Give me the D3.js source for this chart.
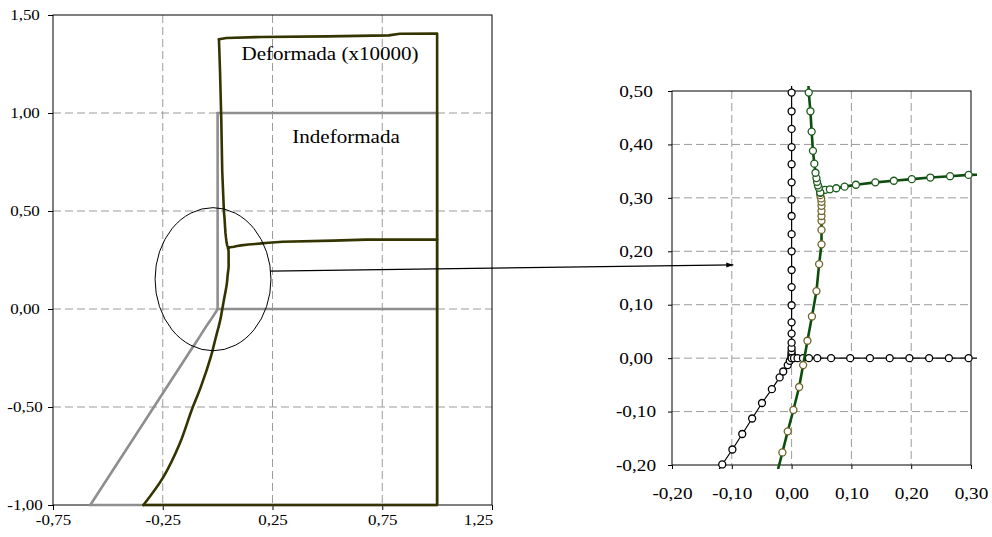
<!DOCTYPE html>
<html>
<head>
<meta charset="utf-8">
<script src="https://cdn.jsdelivr.net/npm/d3@7"></script>
<style>
  body { margin: 0; background: #fff; }
  svg { display: block; }
</style>
</head>
<body>
<svg id="chart" width="992" height="537"></svg>
<script>
// ---- tick values ----
const fullXTicks = [-0.75, -0.25, 0.25, 0.75, 1.25];
const fullYTicks = [-1.0, -0.5, 0.0, 0.5, 1.0, 1.5];
const zoomXTicks = [-0.2, -0.1, 0.0, 0.1, 0.2, 0.3];
const zoomYTicks = [-0.2, -0.1, 0.0, 0.1, 0.2, 0.3, 0.4, 0.5];

// ---- undeformed section (model units) ----
// sloped upstream face, from the base up to the wall foot
const undefFace = [[-0.58, -1.0], [-0.116, -0.199], [-0.099, -0.171], [-0.0825, -0.142], [-0.066, -0.113],
  [-0.0495, -0.084], [-0.033, -0.058], [-0.020, -0.036], [-0.014, -0.025], [-0.0065, -0.013],
  [-0.003, -0.005], [0.0, 0.0]];
// vertical wall x = 0
const undefWall = [[0, 0.0], [0, 0.003], [0, 0.006], [0, 0.009], [0, 0.013], [0, 0.019], [0, 0.029],
  [0, 0.046], [0, 0.067], [0, 0.099], [0, 0.133], [0, 0.165], [0, 0.200], [0, 0.232], [0, 0.266],
  [0, 0.297], [0, 0.329], [0, 0.363], [0, 0.395], [0, 0.429], [0, 0.462], [0, 0.497], [0, 1.0]];
// horizontal slab y = 0
const undefSlab = [[0.0, 0], [0.004, 0], [0.010, 0], [0.019, 0], [0.029, 0], [0.043, 0], [0.066, 0],
  [0.098, 0], [0.131, 0], [0.164, 0], [0.197, 0], [0.230, 0], [0.263, 0], [0.296, 0], [1.0, 0]];
// remaining outline: top, right side and base
const undefOutline = [[0, 1.0], [1.0, 1.0], [1.0, -1.0], [-0.58, -1.0]];

// ---- deformed section (displacements x10000) ----
// wall below the slab
const defLower = [[-0.338, -1.0], [-0.246, -0.855], [-0.172, -0.685], [-0.118, -0.515], [-0.076, -0.396],
  [-0.030, -0.240], [-0.0154, -0.1765], [-0.0065, -0.137], [0.003, -0.097], [0.0126, -0.054],
  [0.0193, -0.013], [0.0265, 0.0326], [0.034, 0.078], [0.0416, 0.1255], [0.046, 0.176],
  [0.050, 0.213], [0.050, 0.240], [0.050, 0.257], [0.050, 0.266], [0.050, 0.2755], [0.050, 0.285],
  [0.050, 0.2925], [0.0495, 0.299], [0.048, 0.305], [0.048, 0.310]];
// wall above the slab
const defUpper = [[0.048, 0.310], [0.0455, 0.319], [0.044, 0.3235], [0.0425, 0.330], [0.0415, 0.337],
  [0.040, 0.347], [0.038, 0.364], [0.0357, 0.388], [0.0335, 0.424], [0.0315, 0.462], [0.0287, 0.497],
  [0.021, 0.703], [0.0167, 0.965], [0.0106, 1.227], [0.006, 1.376]];
// slab
const defSlab = [[0.048, 0.310], [0.056, 0.315], [0.064, 0.316], [0.0747, 0.318], [0.0886, 0.321],
  [0.1075, 0.3245], [0.140, 0.329], [0.171, 0.332], [0.201, 0.335], [0.232, 0.338], [0.265, 0.3405],
  [0.296, 0.343], [0.526, 0.349], [0.677, 0.354], [1.0, 0.354]];
// remaining outline: top, right side and base
const defOutline = [[0.006, 1.376], [0.04, 1.383], [0.2, 1.388], [0.5, 1.391], [0.78, 1.396],
  [0.83, 1.404], [1.0, 1.405], [1.0, -1.0], [-0.338, -1.0]];

// ---- annotations ----
const labelDeformed = "Deformada (x10000)";
const labelUndeformed = "Indeformada";

const FONT = "'Liberation Serif', 'Times New Roman', serif";
const STRETCH = 1.17;
const fmt = d3.formatLocale({ decimal: ",", thousands: ".", grouping: [3], currency: ["", ""], minus: "-" }).format(".2f");

const svg = d3.select("#chart");

const full = {
  x: d3.scaleLinear().domain([-0.75, 1.25]).range([53, 492]),
  y: d3.scaleLinear().domain([-1.0, 1.5]).range([505, 15])
};
const zoom = {
  x: d3.scaleLinear().domain([-0.2, 0.3]).range([672, 971]),
  y: d3.scaleLinear().domain([-0.2, 0.5]).range([465, 91])
};

function drawFrame(s, xt, yt, opt) {
  const g = svg.append("g");
  const [x0, x1] = s.x.range(), [y0, y1] = s.y.range();
  const [dx0, dx1] = s.x.domain(), [dy0, dy1] = s.y.domain();
  g.append("g").selectAll("line")
    .data(xt.filter(v => v > dx0 + 1e-9 && v < dx1 - 1e-9)).join("line")
    .attr("x1", d => s.x(d)).attr("x2", d => s.x(d))
    .attr("y1", y1).attr("y2", y0)
    .attr("stroke", "#9b9b9b").attr("stroke-width", 1).attr("stroke-dasharray", "8,4");
  g.append("g").selectAll("line")
    .data(yt.filter(v => v > dy0 + 1e-9 && v < dy1 - 1e-9)).join("line")
    .attr("y1", d => s.y(d)).attr("y2", d => s.y(d))
    .attr("x1", x0).attr("x2", x1)
    .attr("stroke", "#9b9b9b").attr("stroke-width", 1).attr("stroke-dasharray", "8,4");
  g.append("rect")
    .attr("x", x0).attr("y", y1).attr("width", x1 - x0).attr("height", y0 - y1)
    .attr("fill", "none").attr("stroke", "#000").attr("stroke-width", 1);

  const ax = g.append("g").attr("transform", `translate(0,${y0})`)
    .call(d3.axisBottom(s.x).tickValues(xt).tickSize(opt.tick).tickSizeOuter(0).tickFormat(fmt));
  ax.select(".domain").remove();
  ax.attr("font-family", FONT).attr("font-size", opt.fs);
  ax.selectAll("text").attr("y", null).attr("dy", null).attr("fill", "#000")
    .attr("transform", (d, i, n) => {
      // keep the last label inside the chart area
      const shift = (i === n.length - 1) ? -opt.lastShift : 0;
      return `translate(${shift},${opt.xBase}) scale(${STRETCH},1)`;
    });

  const ay = g.append("g").attr("transform", `translate(${x0},0)`)
    .call(d3.axisLeft(s.y).tickValues(yt).tickSize(opt.tick).tickSizeOuter(0).tickFormat(fmt));
  ay.select(".domain").remove();
  ay.attr("font-family", FONT).attr("font-size", opt.fs).attr("text-anchor", "middle");
  ay.selectAll("text").attr("x", null).attr("fill", "#000")
    .attr("transform", `translate(${-opt.yOff},0) scale(${STRETCH},1)`);
  return g;
}

function lineGen(s, curve) {
  return d3.line().x(d => s.x(d[0])).y(d => s.y(d[1])).curve(curve || d3.curveLinear);
}

// ===== full section =====
drawFrame(full, fullXTicks, fullYTicks, { tick: 5, fs: 14.5, xBase: 20, yOff: 28, lastShift: 14 });
const fl = lineGen(full);
const flSmooth = lineGen(full, d3.curveCatmullRom.alpha(0.5));
const gFull = svg.append("g").attr("fill", "none").attr("stroke-linejoin", "round").attr("stroke-linecap", "round");
[undefFace, undefWall, undefSlab, undefOutline].forEach(p =>
  gFull.append("path").attr("d", fl(p)).attr("stroke", "#8e8e8e").attr("stroke-width", 2.6));
gFull.append("path").attr("d", flSmooth(defLower)).attr("stroke", "#343400").attr("stroke-width", 2.6);
[defUpper, defSlab, defOutline].forEach(p =>
  gFull.append("path").attr("d", fl(p)).attr("stroke", "#343400").attr("stroke-width", 2.6));

function stretchedText(x, y, str, size) {
  svg.append("text")
    .attr("transform", `translate(${x},${y}) scale(${STRETCH},1)`)
    .attr("text-anchor", "middle")
    .attr("font-family", FONT).attr("font-size", size).attr("fill", "#000")
    .text(str);
}
stretchedText(full.x(0.512), full.y(1.272), labelDeformed, 18);
stretchedText(full.x(0.585), full.y(0.848), labelUndeformed, 18);

// ===== detail near the wall foot =====
drawFrame(zoom, zoomXTicks, zoomYTicks, { tick: 4, fs: 16.5, xBase: 34, yOff: 36, lastShift: 0 });
const zx0 = zoom.x.range()[0], zx1 = zoom.x.range()[1], zy0 = zoom.y.range()[0], zy1 = zoom.y.range()[1];
svg.append("clipPath").attr("id", "zoomClip").append("rect")
  .attr("x", zx0).attr("y", zy1 - 5).attr("width", zx1 - zx0 + 6).attr("height", zy0 - zy1 + 9);
const zl = lineGen(zoom);
const gZoom = svg.append("g").attr("clip-path", "url(#zoomClip)").attr("fill", "none").attr("stroke-linejoin", "round");
const inside = d => d[0] >= -0.2 && d[0] <= 0.3 && d[1] >= -0.2 && d[1] <= 0.5;

function markers(pts, stroke) {
  gZoom.append("g").selectAll("circle").data(pts.filter(inside)).join("circle")
    .attr("cx", d => zoom.x(d[0])).attr("cy", d => zoom.y(d[1])).attr("r", 3.5)
    .attr("fill", "#fff").attr("stroke", stroke).attr("stroke-width", 1.3);
}

[undefFace, undefWall, undefSlab, undefOutline].forEach(p =>
  gZoom.append("path").attr("d", zl(p)).attr("stroke", "#000").attr("stroke-width", 1.2));
markers(undefFace, "#000");
markers(undefWall, "#000");
markers(undefSlab, "#000");

[defLower, defUpper, defSlab, defOutline].forEach(p =>
  gZoom.append("path").attr("d", zl(p)).attr("stroke", "#0d4d0d").attr("stroke-width", 2.6));
markers(defLower, "#6e6326");
markers(defSlab, "#1a5a1a");
markers(defUpper, "#1a5a1a");

// ===== callout: ellipse and arrow =====
const ell = { cx: -0.021, cy: 0.152, rx: 0.264, ry: 0.365 };
svg.append("ellipse")
  .attr("cx", full.x(ell.cx)).attr("cy", full.y(ell.cy))
  .attr("rx", full.x(ell.cx + ell.rx) - full.x(ell.cx))
  .attr("ry", full.y(ell.cy) - full.y(ell.cy + ell.ry))
  .attr("fill", "none").attr("stroke", "#000").attr("stroke-width", 1);

svg.append("defs").append("marker")
  .attr("id", "head").attr("markerUnits", "userSpaceOnUse")
  .attr("markerWidth", 10).attr("markerHeight", 8)
  .attr("refX", 7).attr("refY", 3).attr("orient", "auto")
  .append("path").attr("d", "M0,0.5L7,3L0,5.5Z").attr("fill", "#000");
svg.append("line")
  .attr("x1", full.x(0.239)).attr("y1", full.y(0.193))
  .attr("x2", zoom.x(-0.0975)).attr("y2", zoom.y(0.1745))
  .attr("stroke", "#000").attr("stroke-width", 1.3).attr("marker-end", "url(#head)");
</script>
</body>
</html>
